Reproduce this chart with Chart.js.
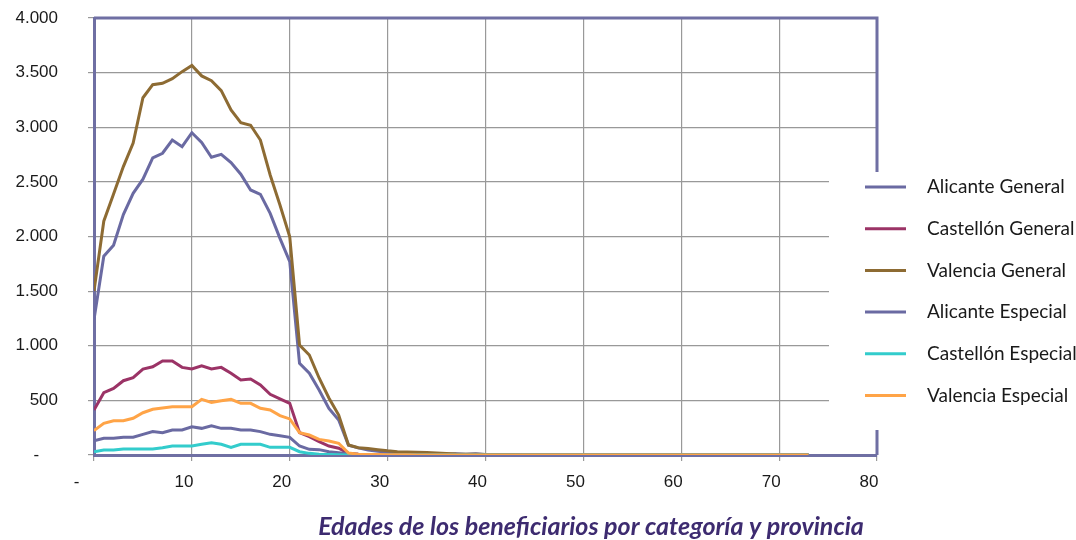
<!DOCTYPE html>
<html>
<head>
<meta charset="utf-8">
<script src="https://cdn.jsdelivr.net/npm/chart.js"></script>
<style>
  html, body { margin: 0; padding: 0; background: #ffffff; }
  #wrap { width: 1076px; height: 540px; }
</style>
</head>
<body>
<div id="wrap"><canvas id="chart" width="1076" height="540"></canvas></div>
<script>
const ages = [
    0, 1, 2, 3, 4, 5, 6, 7, 8, 9,
    10, 11, 12, 13, 14, 15, 16, 17, 18, 19,
    20, 21, 22, 23, 24, 25, 26, 27, 28, 29,
    30, 31, 32, 33, 34, 35, 36, 37, 38, 39,
    40, 41, 42, 43, 44, 45, 46, 47, 48, 49,
    50, 51, 52, 53, 54, 55, 56, 57, 58, 59,
    60, 61, 62, 63, 64, 65, 66, 67, 68, 69,
    70, 71, 72, 73
];

const alicanteGeneral = [
    1240, 1820, 1920, 2200, 2395, 2525, 2720, 2762, 2883, 2822,
    2950, 2860, 2725, 2752, 2676, 2570, 2426, 2386, 2212, 1983,
    1770, 839, 748, 595, 427, 320, 90, 65, 45, 35,
    25, 20, 15, 12, 10, 8, 8, 12, 8, 12,
    5, 3, 2, 2, 1, 1, 1, 0, 0, 0,
    0, 0, 0, 0, 0, 0, 0, 0, 0, 0,
    0, 0, 0, 0, 0, 0, 0, 0, 0, 0,
    0, 0, 0, 0
];

const castellonGeneral = [
    412, 570, 610, 680, 708, 787, 808, 860, 860, 802,
    787, 817, 787, 802, 748, 687, 696, 641, 555, 513,
    473, 204, 168, 122, 82, 62, 15, 8, 5, 3,
    2, 2, 1, 1, 0, 0, 0, 0, 0, 0,
    0, 0, 0, 0, 0, 0, 0, 0, 0, 0,
    0, 0, 0, 0, 0, 0, 0, 0, 0, 0,
    0, 0, 0, 0, 0, 0, 0, 0, 0, 0,
    0, 0, 0, 0
];

const valenciaGeneral = [
    1500, 2140, 2390, 2640, 2855, 3270, 3390, 3402, 3445, 3509,
    3565, 3470, 3426, 3335, 3158, 3042, 3018, 2883, 2563, 2288,
    1998, 1007, 915, 705, 522, 366, 92, 67, 60, 48,
    38, 30, 28, 25, 22, 18, 14, 10, 8, 6,
    5, 3, 2, 2, 1, 1, 0, 0, 0, 0,
    0, 0, 0, 0, 0, 0, 0, 0, 0, 0,
    0, 0, 0, 0, 0, 0, 0, 0, 0, 0,
    0, 0, 0, 0
];

const alicanteEspecial = [
    131, 153, 153, 162, 162, 189, 214, 204, 229, 229,
    259, 244, 268, 244, 244, 229, 229, 214, 189, 177,
    162, 82, 52, 49, 30, 21, 10, 6, 4, 3,
    2, 1, 0, 0, 0, 0, 0, 0, 0, 0,
    0, 0, 0, 0, 0, 0, 0, 0, 0, 0,
    0, 0, 0, 0, 0, 0, 0, 0, 0, 0,
    0, 0, 0, 0, 0, 0, 0, 0, 0, 0,
    0, 0, 0, 0
];

const castellonEspecial = [
    30, 46, 46, 55, 55, 55, 55, 67, 82, 82,
    82, 98, 113, 98, 70, 98, 98, 98, 70, 70,
    70, 30, 15, 8, 5, 3, 1, 0, 0, 0,
    0, 0, 0, 0, 0, 0, 0, 0, 0, 0,
    0, 0, 0, 0, 0, 0, 0, 0, 0, 0,
    0, 0, 0, 0, 0, 0, 0, 0, 0, 0,
    0, 0, 0, 0, 0, 0, 0, 0, 0, 0,
    0, 0, 0, 0
];

const valenciaEspecial = [
    223, 290, 314, 314, 336, 387, 418, 430, 442, 442,
    442, 509, 482, 497, 509, 473, 473, 427, 412, 360,
    330, 204, 183, 143, 128, 107, 18, 8, 5, 4,
    3, 2, 2, 1, 1, 0, 0, 0, 0, 0,
    0, 0, 0, 0, 0, 0, 0, 0, 0, 0,
    0, 0, 0, 0, 0, 0, 0, 0, 0, 0,
    0, 0, 0, 0, 0, 0, 0, 0, 0, 0,
    0, 0, 0, 0
];

const seriesNames = [
    'Alicante General', 'Castellón General', 'Valencia General',
    'Alicante Especial', 'Castellón Especial', 'Valencia Especial'
];
const seriesValues = [
    alicanteGeneral, castellonGeneral, valenciaGeneral,
    alicanteEspecial, castellonEspecial, valenciaEspecial
];
const seriesColors = ['#6a6aa2', '#9b3366', '#8d6b33', '#6a6aa2', '#33cccc', '#ffa447'];

const xTicks = [0, 10, 20, 30, 40, 50, 60, 70, 80];
const titleText = 'Edades de los beneficiarios por categoría y provincia';

const frameColor = '#6f6fa3';
const tickFont = { family: "'Liberation Sans', Arial, sans-serif", size: 17 };

// zero shown as a dash, with the padding of an accounting number format
const formatNumber = (value) => {
    if (value === 0) return '-\u2007\u2007';
    return String(value).replace(/\B(?=(\d{3})+(?!\d))/g, '.');
};

const datasets = seriesNames.map((name, i) => ({
    label: name,
    data: ages.map((age, j) => ({ x: age, y: seriesValues[i][j] })),
    borderColor: seriesColors[i],
    backgroundColor: seriesColors[i],
    borderWidth: 3,
    pointRadius: 0,
    tension: 0,
    order: seriesNames.length - i,
}));

const framePlugin = {
    id: 'frame',
    afterDatasetsDraw(chart) {
        const { ctx, chartArea } = chart;
        ctx.save();
        ctx.strokeStyle = frameColor;
        ctx.lineWidth = 3;
        ctx.beginPath();
        ctx.moveTo(chartArea.left, chartArea.top);
        ctx.lineTo(chartArea.right, chartArea.top);
        ctx.lineTo(chartArea.right, chartArea.bottom);
        ctx.stroke();
        ctx.restore();
    },
    afterDraw(chart) {
        const { ctx } = chart;
        ctx.save();

        // legend box sits over the right part of the plot
        ctx.fillStyle = '#ffffff';
        ctx.fillRect(829, 172, 1076 - 829, 258);

        ctx.font = "19px Lato, 'Noto Sans', sans-serif";
        ctx.textAlign = 'left';
        ctx.textBaseline = 'middle';
        chart.data.datasets.forEach((ds, i) => {
            const y = 187 + i * 41.7;
            ctx.strokeStyle = ds.borderColor;
            ctx.lineWidth = 3;
            ctx.beginPath();
            ctx.moveTo(865, y);
            ctx.lineTo(906, y);
            ctx.stroke();
            ctx.fillStyle = '#1a1a1a';
            ctx.fillText(ds.label, 927, y);
        });

        ctx.font = "italic bold 25px Lato, 'Open Sans', sans-serif";
        ctx.fillStyle = '#3d2b70';
        ctx.textAlign = 'center';
        ctx.fillText(titleText, 591, 527);
        ctx.restore();
    }
};

const ctx = document.getElementById('chart').getContext('2d');
new Chart(ctx, {
    type: 'line',
    data: { datasets: datasets },
    plugins: [framePlugin],
    options: {
        responsive: false,
        animation: false,
        layout: {
            padding: { top: 18, right: 199, bottom: 0, left: 0 },
        },
        plugins: {
            legend: { display: false },
            tooltip: { enabled: false },
        },
        scales: {
            x: {
                type: 'linear',
                min: 0,
                max: 80,
                afterFit: (scale) => {
                    scale.height = 85;
                    scale.paddingLeft = 0;
                    scale.paddingRight = 0;
                },
                afterBuildTicks: (scale) => {
                    scale.ticks = xTicks.map((v) => ({ value: v }));
                },
                ticks: {
                    callback: (value) => formatNumber(value),
                    font: tickFont,
                    color: '#1a1a1a',
                    padding: 11,
                    labelOffset: -8,
                    maxRotation: 0,
                    autoSkip: false,
                },
                grid: {
                    color: '#999999',
                    lineWidth: 1.2,
                    tickColor: '#999999',
                    tickLength: 6,
                },
                border: { color: frameColor, width: 3 },
            },
            y: {
                min: 0,
                max: 4000,
                afterFit: (scale) => {
                    scale.width = 94;
                    scale.paddingTop = 0;
                    scale.paddingBottom = 0;
                },
                ticks: {
                    stepSize: 500,
                    callback: (value) => formatNumber(value),
                    font: tickFont,
                    color: '#1a1a1a',
                    padding: 30,
                },
                grid: {
                    color: '#999999',
                    lineWidth: 1.2,
                    tickColor: '#999999',
                    tickLength: 6,
                },
                border: { color: frameColor, width: 3 },
            },
        },
    },
});
</script>
</body>
</html>
